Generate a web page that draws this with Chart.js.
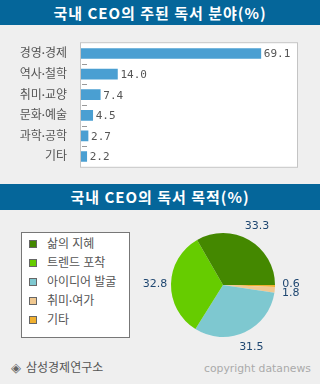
<!DOCTYPE html>
<html><head><meta charset="utf-8">
<script src="https://cdn.jsdelivr.net/npm/chart.js@4"></script>
<style>
body{margin:0;width:320px;height:384px;background:#efefef;position:relative;overflow:hidden;font-family:Lato,'Noto Sans CJK KR',sans-serif}
.band{position:absolute;left:0;width:320px;background:#05669a;color:#fff;font-weight:bold;font-size:15px;text-align:center;letter-spacing:1px;font-family:'Noto Sans CJK KR',sans-serif}
#legend{position:absolute;left:21px;top:232px;width:107px;height:104px;border:1px solid #777;background:#fff}
.sq{position:absolute;left:29px;width:6px;height:6px;border:1px solid #666}
.lt{position:absolute;left:47px;font-size:12px;color:#555;line-height:14px;white-space:nowrap}
#src{position:absolute;left:11px;top:359px;font-size:12px;color:#555;line-height:16px;white-space:nowrap}
#src span{font-size:13px;color:#666;margin-right:5px}
#copy{position:absolute;left:204px;top:361px;font-family:'DejaVu Sans',sans-serif;font-size:10.8px;color:#aaa;line-height:16px;white-space:nowrap}
canvas{position:absolute}
</style></head>
<body>
<div class="band" style="top:0;height:25px;line-height:25px">국내 CEO의 주된 독서 분야(%)</div>
<canvas id="bar" width="320" height="150" style="left:0;top:30px"></canvas>
<div class="band" style="top:184px;height:26px;line-height:26px">국내 CEO의 독서 목적(%)</div>
<div id="legend"></div>
<canvas id="pie" width="186" height="140" style="left:130px;top:220px"></canvas>
<div id="src"><span>◈</span>삼성경제연구소</div>
<div id="copy">copyright datanews</div>
<script>
const fieldLabels = ['경영·경제','역사·철학','취미·교양','문화·예술','과학·공학','기타'];
const fieldValues = [69.1, 14.0, 7.4, 4.5, 2.7, 2.2];
const fieldValueText = ['69.1','14.0','7.4','4.5','2.7','2.2'];

const purposeLabels = ['삶의 지혜','트렌드 포착','아이디어 발굴','취미·여가','기타'];
const purposeValues = [33.3, 32.8, 31.5, 1.8, 0.6];
const purposeColors = ['#448800','#66cc00','#7ec8d0','#f0c890','#f0b030'];

// Bar chart
const barDeco = {
  id:'barDeco',
  beforeDraw(chart){
    const {ctx, chartArea:a} = chart;
    ctx.save();
    ctx.fillStyle='#fff';
    ctx.fillRect(a.left-1,a.top-1,a.right-a.left+2,a.bottom-a.top+2);
    ctx.strokeStyle='#c4c4c4';ctx.lineWidth=1;
    ctx.strokeRect(a.left-0.5,a.top-0.5,a.right-a.left+1,a.bottom-a.top+1);
    const ys = chart.scales.y;
    ctx.strokeStyle='#999';
    for(let i=1;i<fieldLabels.length;i++){
      const y = Math.round((ys.getPixelForValue(i-1)+ys.getPixelForValue(i))/2)+0.5;
      ctx.beginPath();ctx.moveTo(a.left+1,y);ctx.lineTo(a.left+6,y);ctx.stroke();
    }
    ctx.restore();
  },
  afterDatasetsDraw(chart){
    const ctx=chart.ctx;const meta=chart.getDatasetMeta(0);
    ctx.save();
    ctx.font='11px "DejaVu Sans Mono", monospace';
    ctx.fillStyle='#555';ctx.textAlign='left';ctx.textBaseline='middle';
    meta.data.forEach((el,i)=>{ctx.fillText(fieldValueText[i], el.x+3, el.y+1);});
    ctx.restore();
  }
};
new Chart(document.getElementById('bar'),{
  type:'bar',
  data:{labels:fieldLabels,datasets:[{data:fieldValues,backgroundColor:'#4a9fd2',barThickness:10,borderWidth:0}]},
  options:{
    indexAxis:'y',responsive:false,animation:false,events:[],
    layout:{padding:{top:6,bottom:5,right:23,left:0}},
    plugins:{legend:{display:false},tooltip:{enabled:false}},
    scales:{
      x:{display:false,min:0,max:83},
      y:{grid:{display:false},border:{display:false},
         ticks:{padding:6,color:'#555',font:{family:'Lato, "Noto Sans CJK KR"',size:12}},
         afterFit(s){s.width=81;}}
    }
  },
  plugins:[barDeco]
});

// Legend (HTML)
const leg=document.body;
purposeLabels.forEach((lab,i)=>{
  const cy=244+19*i;
  const sq=document.createElement('div');sq.className='sq';sq.style.top=(cy-4)+'px';sq.style.background=purposeColors[i];
  leg.appendChild(sq);
  const t=document.createElement('div');t.className='lt';t.style.top=(cy-7)+'px';t.textContent=lab;
  leg.appendChild(t);
});

// Pie chart: drawn clockwise from 3 o'clock, in reverse of legend order
const pieLabels=[...purposeLabels].reverse();
const pieValues=[...purposeValues].reverse();
const pieColors=[...purposeColors].reverse();
const pieLabelsPlugin={
  id:'pieLabels',
  afterDatasetsDraw(chart){
    const ctx=chart.ctx;const meta=chart.getDatasetMeta(0);
    const pos=meta.data.map((arc,i)=>{
      const p=arc.getProps(['x','y','startAngle','endAngle','outerRadius']);
      const m=(p.startAngle+p.endAngle)/2;const r=p.outerRadius+16;
      return {x:p.x+Math.cos(m)*r,y:p.y+Math.sin(m)*r,t:pieValues[i].toFixed(1)};
    });
    for(let i=1;i<pos.length;i++){
      const a=pos[i-1],b=pos[i];
      if(Math.abs(a.x-b.x)<25 && Math.abs(a.y-b.y)<9){
        const mid=(a.y+b.y)/2;
        if(a.y<=b.y){a.y=mid-4.5;b.y=mid+4.5;}else{a.y=mid+4.5;b.y=mid-4.5;}
      }
    }
    ctx.save();
    ctx.font='11px "DejaVu Sans", sans-serif';ctx.fillStyle='#1e4670';
    ctx.textAlign='center';ctx.textBaseline='middle';
    pos.forEach(p=>ctx.fillText(p.t,p.x,p.y));
    ctx.restore();
  }
};
new Chart(document.getElementById('pie'),{
  type:'pie',
  data:{labels:pieLabels,datasets:[{data:pieValues,backgroundColor:pieColors,borderWidth:0,hoverOffset:0,offset:0}]},
  options:{
    responsive:false,animation:false,events:[],rotation:90,
    layout:{padding:{left:41,right:41,top:13,bottom:23}},
    plugins:{legend:{display:false},tooltip:{enabled:false}}
  },
  plugins:[pieLabelsPlugin]
});
</script>
</body></html>
